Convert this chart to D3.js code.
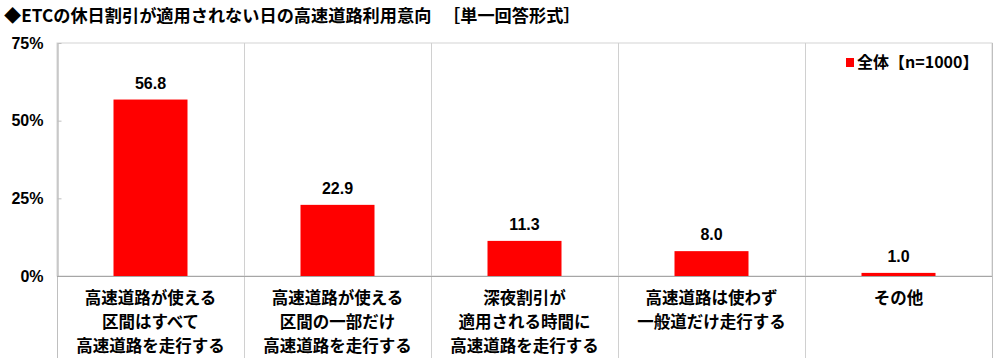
<!DOCTYPE html>
<html>
<head>
<meta charset="utf-8">
<script src="https://cdn.jsdelivr.net/npm/d3@7"></script>
<style>
  html, body { margin: 0; padding: 0; background: #fff; }
  svg { display: block; }
  text { font-family: "Noto Sans CJK JP", "Noto Sans", sans-serif; font-weight: 700; fill: #000; }
  .num { font-family: "Liberation Sans", Arial, sans-serif; }
</style>
</head>
<body>
<svg id="chart" width="1000" height="359"></svg>
<script>
// Chart content
const title = "◆ETCの休日割引が適用されない日の高速道路利用意向";
const titleNote = "［単一回答形式］";
const categories = [
  ["高速道路が使える", "区間はすべて", "高速道路を走行する"],
  ["高速道路が使える", "区間の一部だけ", "高速道路を走行する"],
  ["深夜割引が", "適用される時間に", "高速道路を走行する"],
  ["高速道路は使わず", "一般道だけ走行する"],
  ["その他"]
];
const values = [56.8, 22.9, 11.3, 8.0, 1.0];
const yTicks = [0, 25, 50, 75];
const seriesName = "全体【n=1000】";

const svg = d3.select("#chart");
const plotLeft = 57, plotRight = 992, plotTop = 43, plotBottom = 276, labelBottom = 358;

const x = d3.scaleBand().domain(d3.range(categories.length)).range([plotLeft, plotRight]).paddingInner(0).paddingOuter(0);
const y = d3.scaleLinear().domain([0, 75]).range([plotBottom, plotTop]);

// Title
svg.append("text").attr("x", 4).attr("y", 22).attr("font-size", 17.2).text(title);
svg.append("text").attr("x", 443).attr("y", 22).attr("font-size", 17.2).text(titleNote);

// Plot frame
svg.append("rect").attr("x", plotLeft).attr("y", plotTop).attr("width", plotRight - plotLeft).attr("height", plotBottom - plotTop)
  .attr("fill", "none").attr("stroke", "#d4d4d4").attr("stroke-width", 1);

// Category dividers extending through the label area
x.domain().forEach(i => {
  const xx = Math.round(x(i)) + 0.5;
  if (i > 0) {
    svg.append("line").attr("x1", xx).attr("x2", xx).attr("y1", plotTop).attr("y2", labelBottom)
      .attr("stroke", "#d0d0d0");
  }
});
svg.append("line").attr("x1", plotRight + 0.5).attr("x2", plotRight + 0.5).attr("y1", plotTop).attr("y2", labelBottom).attr("stroke", "#bfbfbf");
svg.append("line").attr("x1", plotLeft + 0.5).attr("x2", plotLeft + 0.5).attr("y1", plotBottom).attr("y2", labelBottom).attr("stroke", "#bfbfbf");

// Y axis
const yAxis = d3.axisLeft(y).tickValues(yTicks).tickFormat(d => d + "%").tickSize(-4).tickSizeOuter(0).tickPadding(14);
const gy = svg.append("g").attr("transform", `translate(${plotLeft + 0.5},0)`).call(yAxis);
gy.select(".domain").attr("stroke", "#a6a6a6");
gy.selectAll(".tick line").attr("stroke", "#bfbfbf");
gy.selectAll(".tick text").attr("class", "num").attr("font-size", 16).attr("font-weight", 700).attr("fill", "#000")
  .attr("font-family", "Liberation Sans, Arial, sans-serif");

// Baseline
svg.append("line").attr("x1", plotLeft).attr("x2", plotRight).attr("y1", plotBottom + 0.5).attr("y2", plotBottom + 0.5).attr("stroke", "#a6a6a6");

// Bars
const barW = 74;
svg.selectAll(".bar").data(values).join("rect")
  .attr("class", "bar")
  .attr("x", (d, i) => x(i) + x.bandwidth() / 2 - barW / 2)
  .attr("y", d => y(d))
  .attr("width", barW)
  .attr("height", d => plotBottom - y(d))
  .attr("fill", "#ff0000");

// Value labels
svg.selectAll(".val").data(values).join("text")
  .attr("class", "val num")
  .attr("x", (d, i) => x(i) + x.bandwidth() / 2)
  .attr("y", d => y(d) - 11)
  .attr("text-anchor", "middle")
  .attr("font-size", 16)
  .text(d => d.toFixed(1));

// Category labels
categories.forEach((lines, i) => {
  const t = svg.append("text").attr("text-anchor", "middle").attr("font-size", 16.5);
  lines.forEach((ln, j) => {
    t.append("tspan").attr("x", x(i) + x.bandwidth() / 2).attr("y", 304 + j * 24).text(ln);
  });
});

// Legend
svg.append("rect").attr("x", 846).attr("y", 58).attr("width", 8).attr("height", 9).attr("fill", "#ff0000");
svg.append("text").attr("x", 857).attr("y", 68).attr("font-size", 16).text(seriesName);
</script>
</body>
</html>
